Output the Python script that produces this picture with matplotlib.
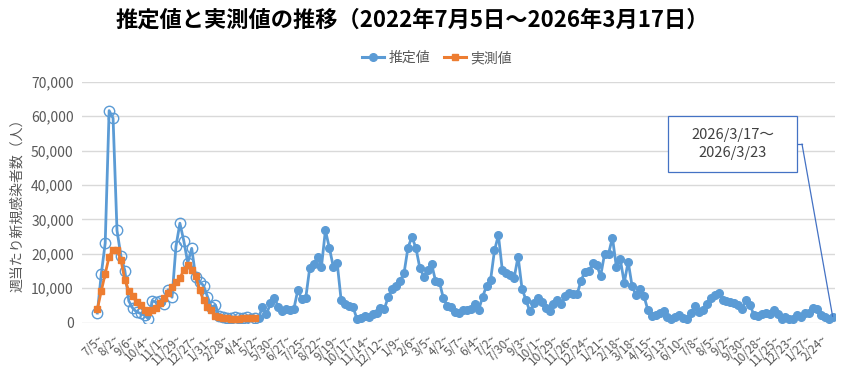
import matplotlib
matplotlib.use("Agg")
import matplotlib.pyplot as plt
from matplotlib.patches import Rectangle
from matplotlib.lines import Line2D
import numpy as np

plt.rcParams['font.family'] = ['Noto Sans CJK JP', 'DejaVu Sans']

title = "推定値と実測値の推移（2022年7月5日～2026年3月17日）"
ylabel = "週当たり新規感染者数（人）"
series_names = ["推定値", "実測値"]
callout_text = "2026/3/17～\n2026/3/23"

tick_dates = ["7/5", "8/2", "9/6", "10/4", "11/1", "11/29", "12/27", "1/31", "2/28",
              "4/4", "5/2", "5/30", "6/27", "7/25", "8/22", "9/19", "10/17", "11/14",
              "12/12", "1/9", "2/6", "3/5", "4/2", "5/7", "6/4", "7/2", "7/30", "9/3",
              "10/1", "10/29", "11/26", "12/24", "1/21", "2/18", "3/18", "4/15", "5/13",
              "6/10", "7/8", "8/5", "9/2", "9/30", "10/28", "11/25", "12/23", "1/27", "2/24"]
tick_step = 4

estimated = [
    2800, 14100, 23100, 61600, 59400, 26800, 19400, 15100, 6300, 4200,
    3100, 2700, 2200, 1100, 6400, 5900, 6400, 5400, 9600, 7400,
    22200, 28900, 23700, 17400, 21600, 13400, 11900, 10800, 7600, 4500,
    5100, 1900, 1600, 1400, 1500, 1700, 1300, 1500, 1800, 1200,
    1400, 1300, 4700, 2400, 5600, 7200, 4700, 3400, 4100, 3700,
    4100, 9600, 6800, 7100, 15800, 17000, 19000, 16300, 26800, 21800,
    16300, 17300, 6600, 5400, 4800, 4600, 1200, 1300, 1900, 1800,
    2400, 2900, 4200, 4000, 7600, 9900, 10700, 12200, 14400, 21800,
    24900, 21800, 16000, 13400, 15400, 17100, 12200, 11800, 7100, 4900,
    4500, 3000, 2700, 3600, 3800, 3900, 5400, 3800, 7600, 10700,
    12300, 21000, 25400, 15200, 14500, 13800, 13000, 19200, 9900, 6600,
    3300, 5600, 7100, 6100, 4300, 3500, 5500, 6500, 5400, 7700,
    8500, 8400, 8200, 12200, 14800, 14900, 17200, 16700, 13600, 20000,
    20000, 24700, 16200, 18400, 11600, 17700, 10600, 8000, 9700, 7800,
    3700, 1900, 2300, 2900, 3400, 1600, 1000, 1700, 2200, 1300,
    1000, 2700, 4800, 3000, 3600, 5500, 7300, 8000, 8600, 6700,
    6200, 6100, 5700, 5000, 3900, 6700, 5100, 2200, 2000, 2400,
    2900, 2600, 3700, 2400, 1000, 1600, 1000, 1200, 2200, 1600,
    2700, 2800, 4200, 3900, 2200, 1800, 1000, 1800]

measured = [
    3900, 9200, 14200, 19200, 21100, 21100, 18200, 12400, 9200, 7900,
    5900, 5100, 3800, 3200, 3700, 4400, 5700, 7200, 8700, 10400,
    11900, 13000, 15200, 16800, 15300, 13600, 9500, 6500, 4700, 3600,
    2000, 1600, 1400, 1300, 1200, 1200, 1200, 1300, 1300, 1500, 1400]

hollow_until = len(measured)  # estimated points shown as open circles

BLUE = "#5B9BD5"
ORANGE = "#ED7D31"
GRAY = "#595959"

W, H = 858, 382
fig = plt.figure(figsize=(W / 100, H / 100), dpi=100)
ax = fig.add_axes([82 / W, (H - 322.7) / H, (835 - 82) / W, (322.7 - 81.7) / H])

x_est = np.arange(len(estimated))
x_mea = np.arange(len(measured))

ax.plot(x_est, estimated, color=BLUE, lw=2.0, zorder=3)
ax.plot(x_est[:hollow_until], estimated[:hollow_until], ls='none', marker='o',
        ms=7.5, mfc='none', mec=BLUE, mew=1.0, zorder=3)
ax.plot(x_est[hollow_until:], estimated[hollow_until:], ls='none', marker='o',
        ms=5.5, mfc=BLUE, mec=BLUE, zorder=3)
ax.plot(x_mea, measured, color=ORANGE, lw=2.0, marker='s', ms=5, mfc=ORANGE,
        mec=ORANGE, zorder=4)

ax.set_ylim(0, 70000)
ax.set_xlim(-3.9, len(estimated) - 1 + 0.6)
ax.set_yticks(np.arange(0, 70001, 10000))
ax.set_yticklabels([f"{v:,}" for v in range(0, 70001, 10000)], color=GRAY, fontsize=10)
ax.grid(axis='y', color="#D9D9D9", lw=1)
ax.set_axisbelow(True)
for s in ax.spines.values():
    s.set_visible(False)

tick_pos = np.arange(len(tick_dates)) * tick_step
ax.set_xticks(tick_pos)
ax.set_xticklabels([d + "~" for d in tick_dates], rotation=45, ha='right',
                   rotation_mode='anchor', color=GRAY, fontsize=8.5)
ax.tick_params(axis='both', length=0)
ax.tick_params(axis='x', pad=7)
ax.tick_params(axis='y', pad=6)

ax.set_ylabel(ylabel, color=GRAY, fontsize=10, labelpad=5)

fig.text(412 / W, 1 - 20 / H, title, ha='center', va='center', fontsize=16,
         fontweight='bold', color='black')

handles = [Line2D([], [], color=BLUE, lw=2.2, marker='o', ms=5.5),
           Line2D([], [], color=ORANGE, lw=2.2, marker='s', ms=5)]
fig.legend(handles, series_names, loc='center', bbox_to_anchor=(437 / W, 1 - 58 / H),
           ncol=2, frameon=False, fontsize=10, labelcolor=GRAY, handlelength=1.6,
           columnspacing=1.0, handletextpad=0.3)

# callout box
bx0, bx1, by_top, by_bot = 668, 797, 116, 172
fig.patches.append(Rectangle((bx0 / W, 1 - by_bot / H), (bx1 - bx0) / W,
                             (by_bot - by_top) / H, transform=fig.transFigure,
                             fc='white', ec="#4472C4", lw=0.9, zorder=5))
fig.text((bx0 + bx1) / 2 / W, 1 - (by_top + by_bot) / 2 / H, callout_text,
         ha='center', va='center', fontsize=10.5, color="#404040",
         linespacing=1.45, zorder=6)
ymid = (by_top + by_bot) / 2
fig.lines.append(Line2D([bx1 / W, 802 / W], [1 - ymid / H, 1 - ymid / H],
                        transform=fig.transFigure, color="#4472C4", lw=0.9))
ax.annotate('', xy=(len(estimated) - 1, estimated[-1]), xycoords='data',
            xytext=(802, H - ymid), textcoords='figure pixels',
            arrowprops=dict(arrowstyle='-', color="#4472C4", lw=0.9,
                            shrinkA=0, shrinkB=0))

fig.savefig("out.png", dpi=100)
